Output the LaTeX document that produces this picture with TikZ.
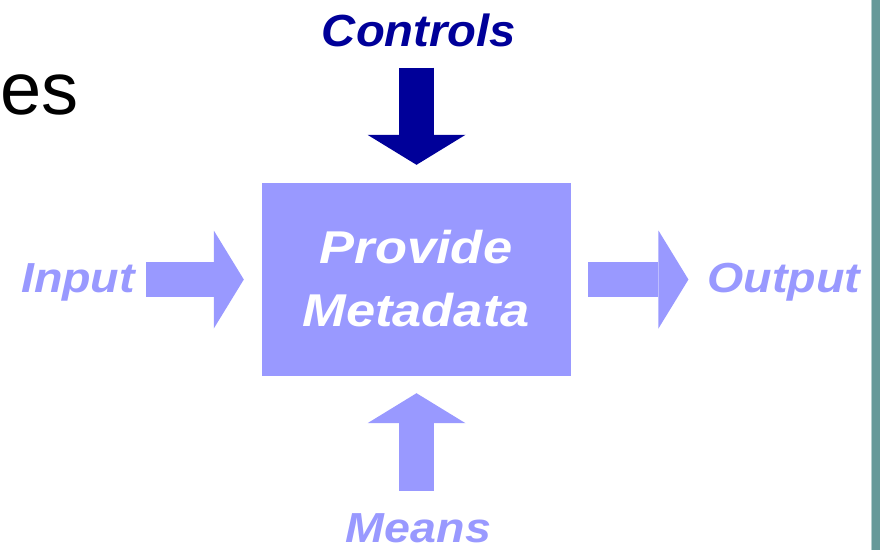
\documentclass[tikz,border=0pt]{standalone}
\usepackage{fontspec}
\setmainfont{Liberation Sans}
\usepackage{graphicx}
\usetikzlibrary{arrows.meta}
\usetikzlibrary{positioning}

\definecolor{ctrlblue}{HTML}{000099}
\definecolor{lightpurple}{HTML}{9999FF}
\definecolor{barteal}{HTML}{669999}

\begin{document}
\begin{tikzpicture}[
    x=1pt, y=-1pt,
    sidelabel/.style={inner sep=0pt, anchor=base, font=\fontsize{42}{50}\selectfont\bfseries\itshape, text=lightpurple},
    boxtext/.style={inner sep=0pt, anchor=base, font=\fontsize{46}{56}\selectfont\bfseries\itshape, text=white},
    process/.style={fill=lightpurple, inner sep=0pt, minimum width=309pt, minimum height=193pt},
    blockarrow/.style={lightpurple, line width=35pt, -{Triangle[line width=0pt, length=30pt, width=98pt]}}
]
\useasboundingbox (0,0) rectangle (880,550);

% --- Slide leftovers ---
\fill[barteal] (872,0) rectangle (880,550);
\fill[barteal!50] (871,0) rectangle (872,550);
\node[inner sep=0pt, anchor=base west, font=\fontsize{74}{88}\selectfont] (es) at (0,114) {es};

% --- Process box ---
\node[process] (box) at (416.5,279.5) {};
\node[boxtext] (prov) at (416,263) {\scalebox{1.14}[1]{Provide}};
\node[boxtext] (meta) at (416,326) {\scalebox{1.14}[1]{Metadata}};

% --- Labels ---
\node[sidelabel, text=ctrlblue, font=\fontsize{45}{54}\selectfont\bfseries\itshape] (ctl) at (419,46) {\scalebox{1.05}[1]{Controls}};
\node[sidelabel] (inp) at (78,292) {\scalebox{1.11}[1]{Input}};
\node[sidelabel] (outp) at (784,292) {\scalebox{1.11}[1]{Output}};
\node[sidelabel] (mns) at (418.5,542) {\scalebox{1.11}[1]{Means}};

% --- Block arrows ---
\draw[blockarrow, ctrlblue, shorten <=21pt, shorten >=18pt] (ctl.south -| box.north) -- (box.north);
\draw[blockarrow, shorten <=11pt, shorten >=18pt] (inp.east |- box.west) -- (box.west);
\draw[blockarrow, shorten <=17pt, shorten >=19pt] (box.east) -- (outp.west |- box.east);
\draw[blockarrow, shorten <=22pt, shorten >=17pt] (mns.north -| box.south) -- (box.south);

\end{tikzpicture}
\end{document}
